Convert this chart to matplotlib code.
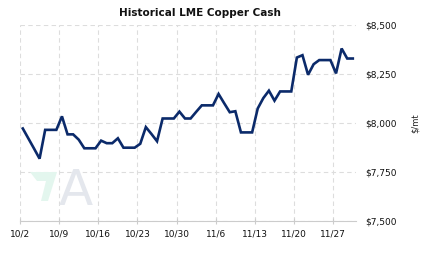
import numpy as np
import pandas as pd
import matplotlib
matplotlib.use('Agg')
import matplotlib.pyplot as plt
import matplotlib.dates as mdates
from matplotlib.patches import Polygon

# LME copper cash, $/mt, one value per calendar day (weekends keep Friday's price)
start_date = '2023-10-02'
prices = [7972, 7921, 7870, 7818, 7965, 7965, 7965,
          8034, 7942, 7942, 7915, 7871, 7871, 7871,
          7910, 7897, 7897, 7922, 7874, 7874, 7874,
          7894, 7979, 7944, 7907, 8023, 8023, 8023,
          8058, 8023, 8023, 8057, 8090, 8090, 8090,
          8148, 8101, 8055, 8060, 7952, 7952, 7952,
          8074, 8127, 8165, 8114, 8161, 8161, 8161,
          8334, 8346, 8246, 8300, 8321, 8321, 8321,
          8253, 8380, 8329, 8329]
tick_labels = ['10/2', '10/9', '10/16', '10/23', '10/30', '11/6', '11/13', '11/20', '11/27']
y_ticks = [7500, 7750, 8000, 8250, 8500]

dates = pd.date_range(start_date, periods=len(prices), freq='D') + pd.Timedelta(hours=12)
tick_dates = pd.date_range(start_date, periods=len(tick_labels), freq='7D')

W, H = 423, 257
fig = plt.figure(figsize=(W / 100, H / 100), dpi=100)
ax = fig.add_axes([20 / W, 36 / H, 335.6 / W, 196 / H])

# watermark logo
fig.patches.append(Polygon([(30, 172), (57, 172), (48, 201), (41, 201), (46, 181), (37, 181)],
                           closed=True, facecolor='#e3f6ee', edgecolor='none',
                           transform=None, zorder=0))
fig.text(76 / W, 1 - 191 / H, 'A', fontsize=36, color='#e4e7ed', ha='center', va='center',
         zorder=0)
for p in fig.patches:
    p.set_transform(matplotlib.transforms.Affine2D().scale(1, -1).translate(0, H))
ax.patch.set_alpha(0)

ax.plot(dates, prices, color='#0b2a6a', lw=1.9, solid_joinstyle='miter', zorder=3)

ax.set_xlim(pd.Timestamp(start_date), pd.Timestamp(start_date) + pd.Timedelta(days=60))
ax.set_ylim(7500, 8500)
ax.set_xticks(tick_dates)
ax.set_xticklabels(tick_labels)
ax.set_yticks(y_ticks)
ax.set_yticklabels(['${:,}'.format(v) for v in y_ticks])
ax.yaxis.tick_right()
ax.yaxis.set_label_position('right')
ax.set_ylabel('$/mt', fontsize=6, labelpad=10, color='#222222')

ax.grid(True, color='#dddddd', linestyle=(0, (4, 3)), lw=0.8, zorder=1)
for s in ['top', 'left', 'right']:
    ax.spines[s].set_visible(False)
ax.spines['bottom'].set_color('#cccccc')
ax.spines['bottom'].set_linewidth(0.8)
ax.tick_params(axis='x', length=4, width=0.8, color='#cccccc', direction='inout',
               labelsize=6.5, pad=4, labelcolor='#111111')
ax.tick_params(axis='y', length=0, labelsize=6.5, pad=7, labelcolor='#111111')

fig.text(200 / W, 1 - 13 / H, 'Historical LME Copper Cash', fontsize=7.5, fontweight='bold',
         ha='center', va='center', color='#111111')

fig.savefig('out.png', dpi=100)
